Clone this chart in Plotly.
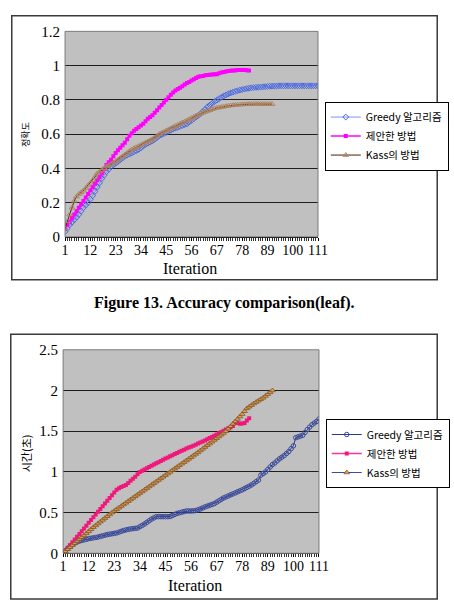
import plotly.graph_objects as go

# ---------------- data ----------------
iterations = list(range(1, 112))
tick_vals = [1, 12, 23, 34, 45, 56, 67, 78, 89, 100, 111]
tick_text = ["1", "12", "23", "34", "45", "56", "67", "78", "89", "100", "111"]
series_names = ["Greedy 알고리즘", "제안한 방법", "Kass의 방법"]

acc_greedy = [
    0.030, 0.050, 0.070, 0.085, 0.100, 0.115, 0.130, 0.150, 0.170, 0.185,
    0.200, 0.220, 0.240, 0.265, 0.290, 0.315, 0.340, 0.360, 0.380, 0.395,
    0.410, 0.420, 0.430, 0.440, 0.450, 0.460, 0.470, 0.477, 0.483, 0.490,
    0.497, 0.503, 0.510, 0.520, 0.530, 0.540, 0.547, 0.553, 0.560, 0.570,
    0.580, 0.590, 0.597, 0.603, 0.610, 0.617, 0.623, 0.630, 0.635, 0.640,
    0.645, 0.650, 0.655, 0.660, 0.670, 0.680, 0.690, 0.700, 0.710, 0.720,
    0.733, 0.746, 0.760, 0.770, 0.780, 0.790, 0.798, 0.807, 0.815, 0.822,
    0.829, 0.835, 0.840, 0.845, 0.850, 0.853, 0.857, 0.860, 0.863, 0.866,
    0.868, 0.870, 0.871, 0.873, 0.874, 0.875, 0.876, 0.877, 0.878, 0.880,
    0.880, 0.881, 0.881, 0.882, 0.882, 0.882, 0.882, 0.882, 0.882, 0.882,
    0.882, 0.882, 0.882, 0.882, 0.882, 0.882, 0.882, 0.882, 0.882, 0.882,
    0.882,
]
acc_proposed = [
    0.050, 0.070, 0.090, 0.110, 0.130, 0.150, 0.170, 0.190, 0.210, 0.230,
    0.250, 0.270, 0.290, 0.310, 0.330, 0.350, 0.370, 0.395, 0.420, 0.435,
    0.450, 0.470, 0.490, 0.505, 0.520, 0.535, 0.550, 0.570, 0.590, 0.605,
    0.620, 0.630, 0.640, 0.650, 0.660, 0.675, 0.690, 0.700, 0.710, 0.725,
    0.740, 0.755, 0.770, 0.785, 0.800, 0.815, 0.830, 0.843, 0.855, 0.863,
    0.870, 0.880, 0.890, 0.898, 0.905, 0.913, 0.920, 0.928, 0.935, 0.938,
    0.940, 0.943, 0.945, 0.947, 0.948, 0.949, 0.950, 0.955, 0.960, 0.963,
    0.965, 0.968, 0.970, 0.971, 0.972, 0.974, 0.975, 0.975, 0.974, 0.973,
    0.972,
]
acc_kass = [
    0.050, 0.090, 0.130, 0.170, 0.210, 0.235, 0.250, 0.260, 0.270, 0.285,
    0.300, 0.315, 0.330, 0.350, 0.370, 0.380, 0.390, 0.400, 0.410, 0.418,
    0.425, 0.433, 0.442, 0.450, 0.460, 0.470, 0.480, 0.490, 0.500, 0.510,
    0.517, 0.523, 0.530, 0.537, 0.543, 0.550, 0.557, 0.563, 0.570, 0.580,
    0.590, 0.600, 0.607, 0.613, 0.620, 0.627, 0.633, 0.640, 0.647, 0.653,
    0.660, 0.667, 0.673, 0.680, 0.687, 0.693, 0.700, 0.707, 0.713, 0.720,
    0.725, 0.730, 0.735, 0.740, 0.745, 0.750, 0.753, 0.755, 0.758, 0.760,
    0.763, 0.765, 0.767, 0.768, 0.770, 0.771, 0.772, 0.773, 0.774, 0.774,
    0.775, 0.775, 0.776, 0.776, 0.776, 0.776, 0.775, 0.775, 0.775, 0.775,
    0.775,
]

time_greedy = [
    0.000, 0.030, 0.060, 0.085, 0.110, 0.125, 0.140, 0.150, 0.158, 0.165,
    0.172, 0.180, 0.185, 0.190, 0.195, 0.200, 0.208, 0.215, 0.223, 0.230,
    0.235, 0.240, 0.245, 0.250, 0.260, 0.270, 0.280, 0.287, 0.293, 0.300,
    0.303, 0.307, 0.310, 0.327, 0.343, 0.360, 0.380, 0.400, 0.420, 0.435,
    0.450, 0.450, 0.450, 0.450, 0.450, 0.450, 0.452, 0.465, 0.478, 0.490,
    0.498, 0.505, 0.513, 0.520, 0.520, 0.520, 0.522, 0.525, 0.535, 0.545,
    0.557, 0.570, 0.580, 0.590, 0.600, 0.610, 0.628, 0.645, 0.663, 0.680,
    0.692, 0.705, 0.718, 0.730, 0.742, 0.755, 0.768, 0.780, 0.795, 0.810,
    0.825, 0.840, 0.860, 0.880, 0.900, 0.960, 0.980, 1.000, 1.030, 1.060,
    1.090, 1.110, 1.135, 1.160, 1.180, 1.200, 1.225, 1.250, 1.285, 1.320,
    1.420, 1.430, 1.440, 1.450, 1.485, 1.520, 1.550, 1.580, 1.600, 1.620,
    1.650,
]
time_proposed = [
    0.000, 0.034, 0.068, 0.102, 0.136, 0.170, 0.204, 0.238, 0.272, 0.306,
    0.340, 0.374, 0.408, 0.442, 0.476, 0.510, 0.544, 0.578, 0.612, 0.646,
    0.680, 0.714, 0.748, 0.782, 0.800, 0.815, 0.828, 0.840, 0.865, 0.890,
    0.915, 0.940, 0.970, 1.000, 1.015, 1.030, 1.045, 1.060, 1.075, 1.090,
    1.105, 1.120, 1.135, 1.150, 1.164, 1.178, 1.192, 1.206, 1.220, 1.233,
    1.247, 1.260, 1.273, 1.287, 1.300, 1.310, 1.320, 1.335, 1.350, 1.362,
    1.374, 1.385, 1.400, 1.415, 1.430, 1.445, 1.460, 1.475, 1.490, 1.505,
    1.520, 1.535, 1.550, 1.565, 1.605, 1.600, 1.590, 1.595, 1.600, 1.630,
    1.660,
]
time_kass = [
    0.000, 0.025, 0.050, 0.075, 0.100, 0.124, 0.148, 0.172, 0.196, 0.220,
    0.245, 0.270, 0.295, 0.320, 0.343, 0.365, 0.388, 0.410, 0.433, 0.455,
    0.478, 0.500, 0.520, 0.540, 0.560, 0.580, 0.600, 0.620, 0.640, 0.660,
    0.680, 0.700, 0.720, 0.740, 0.760, 0.780, 0.800, 0.820, 0.840, 0.860,
    0.880, 0.900, 0.920, 0.940, 0.960, 0.980, 1.000, 1.020, 1.040, 1.060,
    1.080, 1.100, 1.120, 1.140, 1.160, 1.180, 1.200, 1.220, 1.240, 1.262,
    1.283, 1.305, 1.327, 1.348, 1.370, 1.392, 1.413, 1.435, 1.457, 1.478,
    1.500, 1.530, 1.560, 1.590, 1.620, 1.650, 1.680, 1.710, 1.745, 1.780,
    1.800, 1.820, 1.840, 1.858, 1.875, 1.893, 1.910, 1.933, 1.955, 1.978,
    2.000,
]

acc_ticks = [0, 0.2, 0.4, 0.6, 0.8, 1.0, 1.2]
acc_tick_text = ["0", "0.2", "0.4", "0.6", "0.8", "1", "1.2"]
time_ticks = [0, 0.5, 1.0, 1.5, 2.0, 2.5]
time_tick_text = ["0", "0.5", "1", "1.5", "2", "2.5"]

# ---------------- layout helpers ----------------
W, H = 454, 610


def fx(p):
    return p / W


def fy(p):
    return 1 - p / H


SERIF = "Liberation Serif, Times New Roman, serif"
KR = "Noto Sans CJK KR, sans-serif"

fig = go.Figure()

# top chart traces
fig.add_trace(go.Scatter(
    x=iterations[:len(acc_greedy)], y=acc_greedy, name=series_names[0],
    mode="lines+markers", xaxis="x", yaxis="y", legend="legend",
    line=dict(color="#7a96f0", width=1),
    marker=dict(symbol="diamond-open", size=4.5, color="#4a68e0", line=dict(width=1))))
fig.add_trace(go.Scatter(
    x=iterations[:len(acc_proposed)], y=acc_proposed, name=series_names[1],
    mode="lines+markers", xaxis="x", yaxis="y", legend="legend",
    line=dict(color="#ff00ff", width=1.5),
    marker=dict(symbol="square", size=4, color="#ff00ff")))
fig.add_trace(go.Scatter(
    x=iterations[:len(acc_kass)], y=acc_kass, name=series_names[2],
    mode="lines+markers", xaxis="x", yaxis="y", legend="legend",
    line=dict(color="#4a2008", width=1),
    marker=dict(symbol="triangle-up-open", size=5, color="#b08460", line=dict(width=1))))

# bottom chart traces
fig.add_trace(go.Scatter(
    x=iterations[:len(time_greedy)], y=time_greedy, name=series_names[0],
    mode="lines+markers", xaxis="x2", yaxis="y2", legend="legend2",
    line=dict(color="#2b3a8c", width=1),
    marker=dict(symbol="circle-open", size=4.5, color="#3a4a9a", line=dict(width=1))))
fig.add_trace(go.Scatter(
    x=iterations[:len(time_proposed)], y=time_proposed, name=series_names[1],
    mode="lines+markers", xaxis="x2", yaxis="y2", legend="legend2",
    line=dict(color="#ff3399", width=1.5),
    marker=dict(symbol="square", size=4, color="#f0187a")))
fig.add_trace(go.Scatter(
    x=iterations[:len(time_kass)], y=time_kass, name=series_names[2],
    mode="lines+markers", xaxis="x2", yaxis="y2", legend="legend2",
    line=dict(color="#3a48b8", width=1),
    marker=dict(symbol="triangle-up", size=5, color="#dca050",
                line=dict(color="#7a4a20", width=0.7))))

xaxis_common = dict(
    range=[1, 111], tickvals=tick_vals, ticktext=tick_text,
    tickfont=dict(family=SERIF, size=14, color="black"),
    ticks="outside", ticklen=3, tickcolor="black", tickwidth=1,
    ticklabelstandoff=-3,
    minor=dict(dtick=1, ticks="outside", ticklen=3, tickcolor="#333", tickwidth=1, showgrid=False),
    showline=True, linecolor="black", linewidth=1,
    showgrid=False, zeroline=False, fixedrange=True,
)
yaxis_common = dict(
    tickfont=dict(family=SERIF, size=15, color="black"),
    ticks="", ticklabelstandoff=4,
    showgrid=True, gridcolor="#1e1e1e", gridwidth=1,
    showline=False, zeroline=False, fixedrange=True,
)

fig.update_layout(
    width=W, height=H,
    margin=dict(l=0, r=0, t=0, b=0),
    paper_bgcolor="white", plot_bgcolor="#c0c0c0",
    xaxis=dict(domain=[fx(63), fx(324)], anchor="y", **xaxis_common),
    yaxis=dict(domain=[fy(235), fy(24)], anchor="x", range=[0, 1.2],
               tickvals=acc_ticks, ticktext=acc_tick_text, **yaxis_common),
    xaxis2=dict(domain=[fx(61), fx(325)], anchor="y2", **xaxis_common),
    yaxis2=dict(domain=[fy(560), fy(351)], anchor="x2", range=[0, 2.5],
                tickvals=time_ticks, ticktext=time_tick_text, **yaxis_common),
    legend=dict(x=fx(331), y=fy(131.5), xanchor="left", yanchor="middle",
                bgcolor="white", bordercolor="black", borderwidth=1,
                font=dict(family=KR, size=10.5, color="black"),
                tracegroupgap=0, itemwidth=30),
    legend2=dict(x=fx(332), y=fy(457.5), xanchor="left", yanchor="middle",
                 bgcolor="white", bordercolor="black", borderwidth=1,
                 font=dict(family=KR, size=10.5, color="black"),
                 tracegroupgap=0, itemwidth=30),
    showlegend=True,
)

# frames: outer chart borders and plot-area borders
fig.add_shape(type="rect", xref="paper", yref="paper",
              x0=fx(8), x1=fx(447), y0=fy(279), y1=fy(8),
              line=dict(color="#3a3a3a", width=1.5), layer="below")
fig.add_shape(type="rect", xref="paper", yref="paper",
              x0=fx(7), x1=fx(447), y0=fy(607), y1=fy(335),
              line=dict(color="#3a3a3a", width=1.5), layer="below")
fig.add_shape(type="rect", xref="x domain", yref="y domain",
              x0=0, x1=1, y0=0, y1=1, line=dict(color="#7a7a7a", width=1))
fig.add_shape(type="rect", xref="x2 domain", yref="y2 domain",
              x0=0, x1=1, y0=0, y1=1, line=dict(color="#7a7a7a", width=1))

# texts
def label(text, x, y, size, family, angle=0):
    fig.add_annotation(text=text, xref="paper", yref="paper",
                       x=fx(x), y=fy(y), xanchor="center", yanchor="middle",
                       showarrow=False, textangle=angle,
                       font=dict(family=family, size=size, color="black"))


label("Iteration", 192, 268, 16, SERIF)
label("Iteration", 197, 593, 16, SERIF)
label("정확도", 22, 130, 9, KR, -90)
label("시간(초)", 23, 457, 11, KR, -90)
label("<b>Figure 13. Accuracy comparison(leaf).</b>", 227, 303, 16, SERIF)

fig.write_html("out.html")
